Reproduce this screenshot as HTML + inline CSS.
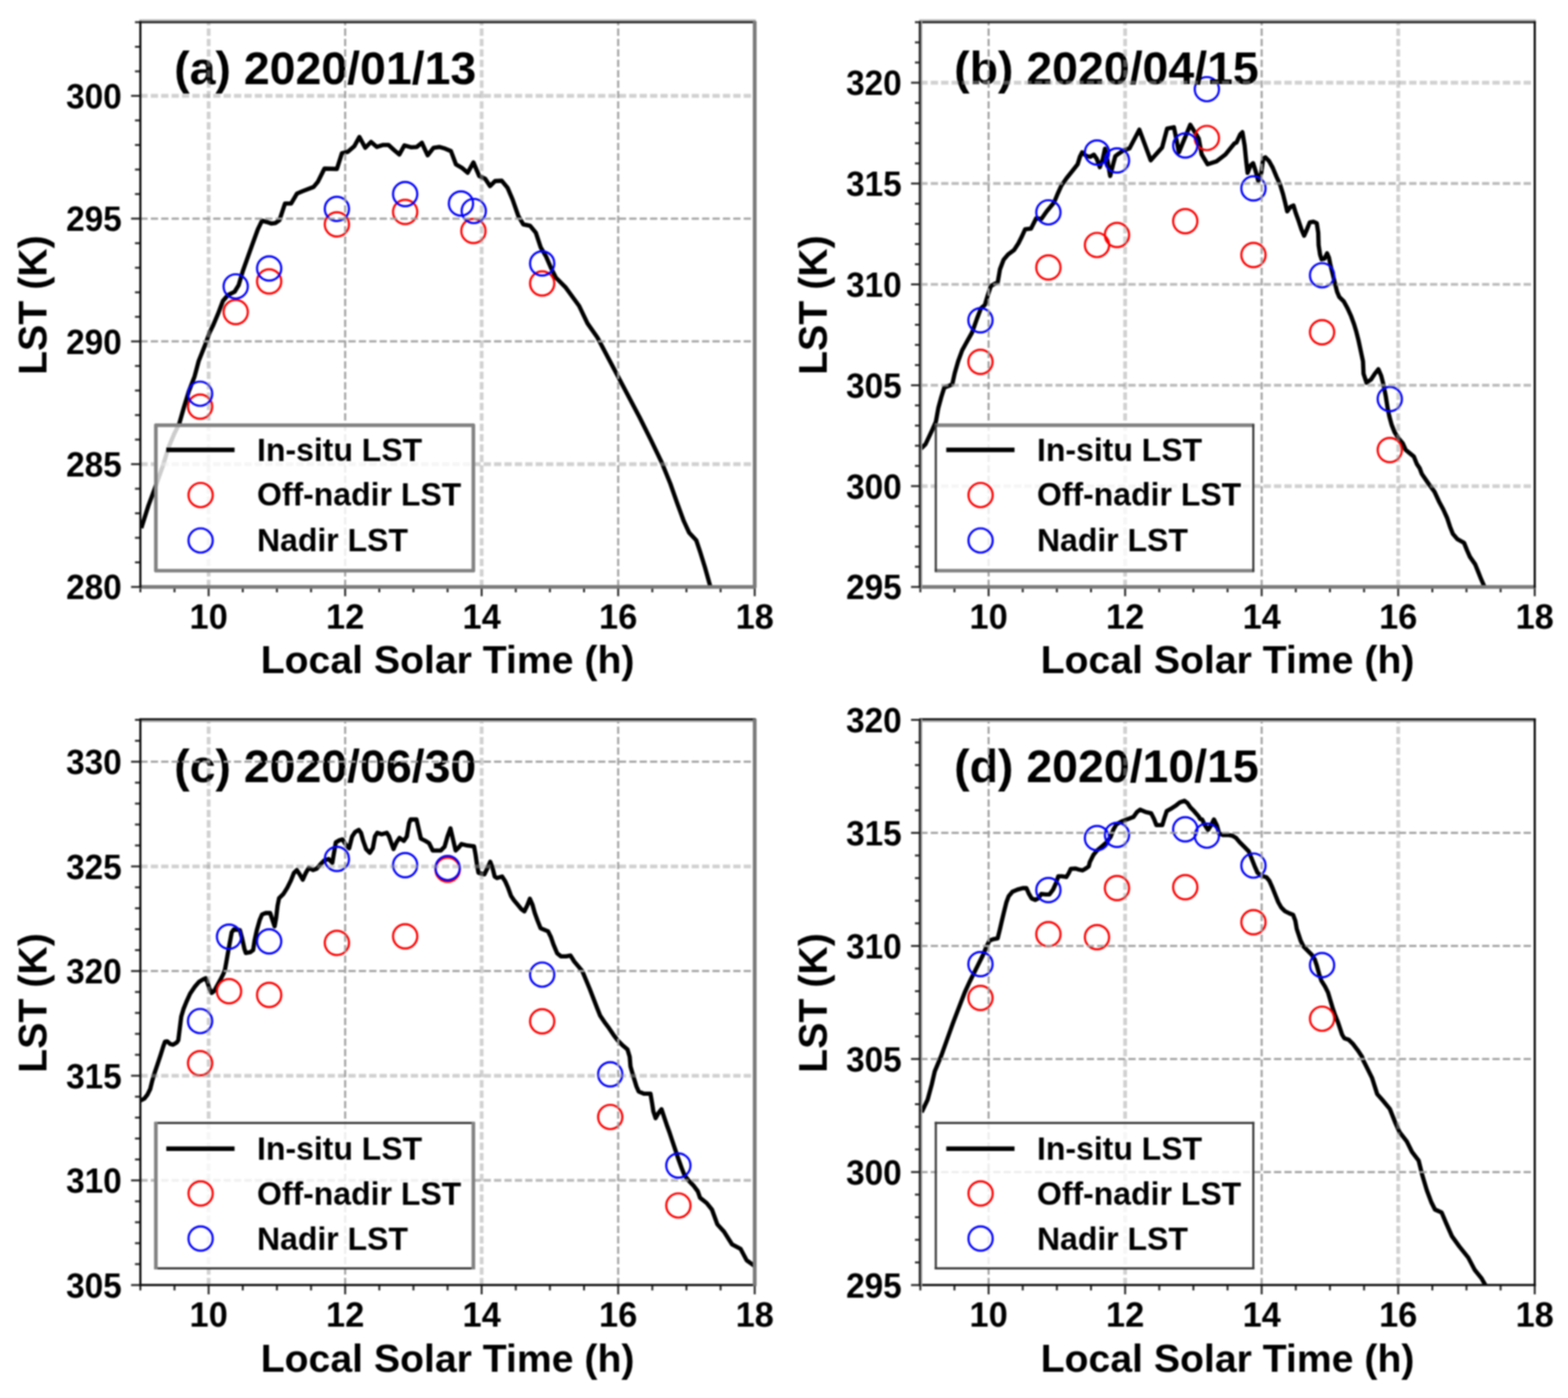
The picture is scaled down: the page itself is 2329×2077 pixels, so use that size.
<!DOCTYPE html>
<html lang="en">
<head>
<meta charset="utf-8">
<title>Diurnal LST: in-situ vs. off-nadir and nadir retrievals</title>
<style>
html, body { margin: 0; padding: 0; background: #fff; }
body { width: 2329px; height: 2077px; overflow: hidden; }
svg { display: block; }
svg text { font-family: "Liberation Sans", Arial, Helvetica, sans-serif; font-weight: bold; fill: #000; }
</style>
</head>
<body>
<svg xmlns="http://www.w3.org/2000/svg" width="2329" height="2077" viewBox="0 0 2329 2077">
<defs><filter id="soft" x="0" y="0" width="2329" height="2077" filterUnits="userSpaceOnUse" color-interpolation-filters="sRGB"><feGaussianBlur stdDeviation="0.9"/></filter></defs>
<rect x="0" y="0" width="2329" height="2077" fill="#fff"/>
<g filter="url(#soft)">
<rect x="0" y="0" width="2329" height="2077" fill="#fff"/>
<g class="panel" id="panel-a">
<clipPath id="clip-a"><rect x="208.5" y="33" width="912.5" height="839"/></clipPath>
<polyline class="curve" clip-path="url(#clip-a)" points="209.9,784.5 220.5,751 231,722.9 241.6,693 250.3,664.9 259.1,643.8 266.2,629.7 273.2,605.1 280.2,582.2 289,559.3 295.2,536.1 305.1,511.4 311.3,494 316.2,484.2 323.6,466.8 331.1,447.1 338.5,438.4 348.4,433.5 354.5,423.6 360.7,402.6 373.1,367.9 383,340.7 389.2,327.9 395.4,329.6 402.8,332.1 409,331.3 415.1,327.1 418.8,316 423.3,302.4 432.4,302.4 441.1,287.6 449.8,283.9 465.8,277.7 472,270.3 481.9,250.5 500.4,251 507.9,227.5 516.5,225.7 526.4,217.1 533.8,203.5 542.5,219.6 551.1,210.9 559.8,218.3 568.4,215.4 577.1,215.4 585.8,223.3 593.2,229.5 600.6,215.9 610.5,218.8 619.1,218.3 626.6,212.1 635.2,230.7 643.9,219.6 652.5,218.3 661.2,220.8 669.8,224.5 677.3,244.3 685.9,249.2 694.6,256.7 703.2,241.3 711.8,261.6 720.5,265.3 727.9,276.4 735.3,269 745.2,268.5 753.9,278.9 761.3,296.2 769.9,320.9 777.3,333.3 787.2,335.3 795.9,345.7 803.3,367.9 810.7,380.3 818.2,397.6 825.6,412.4 840.4,427.3 860.2,454.5 872.6,480.4 887.4,501.5 950,620 966.4,652.9 982.9,687.1 995.7,718.6 1005.7,747.1 1015.7,774.3 1023.6,791.4 1034.3,802.9 1040,820 1047.1,842.9 1054.3,868.6 1060,890" fill="none" stroke="#000" stroke-width="6.3" stroke-linejoin="round" stroke-linecap="butt"/>
<g class="markers" fill="none" stroke-width="3.2">
<circle cx="297.2" cy="604.1" r="18.0" stroke="#f00"/>
<circle cx="350.1" cy="463.6" r="18.0" stroke="#f00"/>
<circle cx="399.8" cy="418.1" r="18.0" stroke="#f00"/>
<circle cx="500.4" cy="333.3" r="18.0" stroke="#f00"/>
<circle cx="601.8" cy="314.8" r="18.0" stroke="#f00"/>
<circle cx="703.2" cy="343.2" r="18.0" stroke="#f00"/>
<circle cx="805.3" cy="421.1" r="18.0" stroke="#f00"/>
<circle cx="297.2" cy="585" r="18.0" stroke="#00f"/>
<circle cx="350.1" cy="425.5" r="18.0" stroke="#00f"/>
<circle cx="399.8" cy="398.8" r="18.0" stroke="#00f"/>
<circle cx="500.4" cy="310.3" r="18.0" stroke="#00f"/>
<circle cx="601.8" cy="288.3" r="18.0" stroke="#00f"/>
<circle cx="684.7" cy="302.4" r="18.0" stroke="#00f"/>
<circle cx="703.7" cy="313.5" r="18.0" stroke="#00f"/>
<circle cx="805.3" cy="391.4" r="18.0" stroke="#00f"/>
</g>
<text class="title" transform="translate(258.7 125.2) scale(1 1.006)" font-size="69">(a) 2020/01/13</text>
<g class="grid" fill="none">
<line x1="309.9" y1="872" x2="309.9" y2="33" stroke="#9e9e9e" stroke-width="5.6" stroke-dasharray="10.8 4.65" stroke-opacity="0.47"/>
<line x1="512.7" y1="872" x2="512.7" y2="33" stroke="#9e9e9e" stroke-width="3.2" stroke-dasharray="10.8 4.65" stroke-opacity="0.93"/>
<line x1="715.4" y1="872" x2="715.4" y2="33" stroke="#9e9e9e" stroke-width="5.6" stroke-dasharray="10.8 4.65" stroke-opacity="0.47"/>
<line x1="918.2" y1="872" x2="918.2" y2="33" stroke="#9e9e9e" stroke-width="3.2" stroke-dasharray="10.8 4.65" stroke-opacity="0.93"/>
<line x1="208.5" y1="142.4" x2="1121" y2="142.4" stroke="#9e9e9e" stroke-width="5.6" stroke-dasharray="10.8 4.65" stroke-opacity="0.47"/>
<line x1="208.5" y1="324.8" x2="1121" y2="324.8" stroke="#9e9e9e" stroke-width="3.2" stroke-dasharray="10.8 4.65" stroke-opacity="0.93"/>
<line x1="208.5" y1="507.2" x2="1121" y2="507.2" stroke="#9e9e9e" stroke-width="3.2" stroke-dasharray="10.8 4.65" stroke-opacity="0.93"/>
<line x1="208.5" y1="689.6" x2="1121" y2="689.6" stroke="#9e9e9e" stroke-width="5.6" stroke-dasharray="10.8 4.65" stroke-opacity="0.47"/>
</g>
<g class="ticks" fill="none">
<line x1="208.5" y1="872" x2="208.5" y2="880" stroke="#2e2e2e" stroke-width="3.0"/>
<line x1="259.2" y1="872" x2="259.2" y2="880" stroke="#2e2e2e" stroke-width="3.0"/>
<line x1="309.9" y1="872" x2="309.9" y2="885.8" stroke="#2e2e2e" stroke-width="3.0"/>
<line x1="360.6" y1="872" x2="360.6" y2="880" stroke="#2e2e2e" stroke-width="3.0"/>
<line x1="411.3" y1="872" x2="411.3" y2="880" stroke="#2e2e2e" stroke-width="3.0"/>
<line x1="462" y1="872" x2="462" y2="880" stroke="#2e2e2e" stroke-width="3.0"/>
<line x1="512.7" y1="872" x2="512.7" y2="885.8" stroke="#2e2e2e" stroke-width="3.0"/>
<line x1="563.4" y1="872" x2="563.4" y2="880" stroke="#2e2e2e" stroke-width="3.0"/>
<line x1="614.1" y1="872" x2="614.1" y2="880" stroke="#2e2e2e" stroke-width="3.0"/>
<line x1="664.8" y1="872" x2="664.8" y2="880" stroke="#2e2e2e" stroke-width="3.0"/>
<line x1="715.4" y1="872" x2="715.4" y2="885.8" stroke="#2e2e2e" stroke-width="3.0"/>
<line x1="766.1" y1="872" x2="766.1" y2="880" stroke="#2e2e2e" stroke-width="3.0"/>
<line x1="816.8" y1="872" x2="816.8" y2="880" stroke="#2e2e2e" stroke-width="3.0"/>
<line x1="867.5" y1="872" x2="867.5" y2="880" stroke="#2e2e2e" stroke-width="3.0"/>
<line x1="918.2" y1="872" x2="918.2" y2="885.8" stroke="#2e2e2e" stroke-width="3.0"/>
<line x1="968.9" y1="872" x2="968.9" y2="880" stroke="#2e2e2e" stroke-width="3.0"/>
<line x1="1019.6" y1="872" x2="1019.6" y2="880" stroke="#2e2e2e" stroke-width="3.0"/>
<line x1="1070.3" y1="872" x2="1070.3" y2="880" stroke="#2e2e2e" stroke-width="3.0"/>
<line x1="1121" y1="872" x2="1121" y2="885.8" stroke="#2e2e2e" stroke-width="3.0"/>
<line x1="208.5" y1="872" x2="194.7" y2="872" stroke="#2e2e2e" stroke-width="3.0"/>
<line x1="208.5" y1="835.5" x2="200.5" y2="835.5" stroke="#2e2e2e" stroke-width="3.0"/>
<line x1="208.5" y1="799" x2="200.5" y2="799" stroke="#2e2e2e" stroke-width="3.0"/>
<line x1="208.5" y1="762.6" x2="200.5" y2="762.6" stroke="#2e2e2e" stroke-width="3.0"/>
<line x1="208.5" y1="726.1" x2="200.5" y2="726.1" stroke="#2e2e2e" stroke-width="3.0"/>
<line x1="208.5" y1="689.6" x2="194.7" y2="689.6" stroke="#2e2e2e" stroke-width="3.0"/>
<line x1="208.5" y1="653.1" x2="200.5" y2="653.1" stroke="#2e2e2e" stroke-width="3.0"/>
<line x1="208.5" y1="616.7" x2="200.5" y2="616.7" stroke="#2e2e2e" stroke-width="3.0"/>
<line x1="208.5" y1="580.2" x2="200.5" y2="580.2" stroke="#2e2e2e" stroke-width="3.0"/>
<line x1="208.5" y1="543.7" x2="200.5" y2="543.7" stroke="#2e2e2e" stroke-width="3.0"/>
<line x1="208.5" y1="507.2" x2="194.7" y2="507.2" stroke="#2e2e2e" stroke-width="3.0"/>
<line x1="208.5" y1="470.7" x2="200.5" y2="470.7" stroke="#2e2e2e" stroke-width="3.0"/>
<line x1="208.5" y1="434.3" x2="200.5" y2="434.3" stroke="#2e2e2e" stroke-width="3.0"/>
<line x1="208.5" y1="397.8" x2="200.5" y2="397.8" stroke="#2e2e2e" stroke-width="3.0"/>
<line x1="208.5" y1="361.3" x2="200.5" y2="361.3" stroke="#2e2e2e" stroke-width="3.0"/>
<line x1="208.5" y1="324.8" x2="194.7" y2="324.8" stroke="#2e2e2e" stroke-width="3.0"/>
<line x1="208.5" y1="288.3" x2="200.5" y2="288.3" stroke="#2e2e2e" stroke-width="3.0"/>
<line x1="208.5" y1="251.9" x2="200.5" y2="251.9" stroke="#2e2e2e" stroke-width="3.0"/>
<line x1="208.5" y1="215.4" x2="200.5" y2="215.4" stroke="#2e2e2e" stroke-width="3.0"/>
<line x1="208.5" y1="178.9" x2="200.5" y2="178.9" stroke="#2e2e2e" stroke-width="3.0"/>
<line x1="208.5" y1="142.4" x2="194.7" y2="142.4" stroke="#2e2e2e" stroke-width="3.0"/>
<line x1="208.5" y1="106" x2="200.5" y2="106" stroke="#2e2e2e" stroke-width="3.0"/>
<line x1="208.5" y1="69.5" x2="200.5" y2="69.5" stroke="#2e2e2e" stroke-width="3.0"/>
<line x1="208.5" y1="33" x2="200.5" y2="33" stroke="#2e2e2e" stroke-width="3.0"/>
</g>
<g class="spines" fill="none">
<line x1="206.9" y1="30.1" x2="1122.6" y2="30.1" stroke="#b4b4b4" stroke-width="2.6"/>
<line x1="206.9" y1="33" x2="1122.6" y2="33" stroke="#1c1c1c" stroke-width="3.2"/>
<line x1="206.9" y1="872" x2="1122.6" y2="872" stroke="#7a7a7a" stroke-width="5.6"/>
<line x1="208.5" y1="31.4" x2="208.5" y2="873.6" stroke="#0c0c0c" stroke-width="3.2"/>
<line x1="1121" y1="31.4" x2="1121" y2="873.6" stroke="#7a7a7a" stroke-width="5.6"/>
</g>
<g class="ticklabels" font-size="51">
<text x="309.9" y="933.6" text-anchor="middle">10</text>
<text x="512.7" y="933.6" text-anchor="middle">12</text>
<text x="715.4" y="933.6" text-anchor="middle">14</text>
<text x="918.2" y="933.6" text-anchor="middle">16</text>
<text x="1121" y="933.6" text-anchor="middle">18</text>
<text transform="translate(180.9 160.7) scale(0.972 1)" text-anchor="end">300</text>
<text transform="translate(180.9 343.1) scale(0.972 1)" text-anchor="end">295</text>
<text transform="translate(180.9 525.5) scale(0.972 1)" text-anchor="end">290</text>
<text transform="translate(180.9 707.9) scale(0.972 1)" text-anchor="end">285</text>
<text transform="translate(180.9 890.3) scale(0.972 1)" text-anchor="end">280</text>
</g>
<text class="xlabel" x="664.8" y="1000.4" font-size="58.2" text-anchor="middle">Local Solar Time (h)</text>
<text class="ylabel" transform="translate(69.1 453.3) rotate(-90)" font-size="58.4" text-anchor="middle">LST (K)</text>
<g class="legend">
<rect x="231.5" y="631.8" width="471.6" height="216.1" fill="#fff" fill-opacity="0.8"/>
<line x1="229.9" y1="631.8" x2="704.7" y2="631.8" stroke="#828282" stroke-width="5.4"/>
<line x1="229.9" y1="847.9" x2="704.7" y2="847.9" stroke="#828282" stroke-width="5.4"/>
<line x1="231.5" y1="630.2" x2="231.5" y2="849.5" stroke="#828282" stroke-width="5.4"/>
<line x1="703.1" y1="630.2" x2="703.1" y2="849.5" stroke="#828282" stroke-width="5.4"/>
<line x1="247" y1="668.4" x2="348.4" y2="668.4" stroke="#000" stroke-width="6.6"/>
<circle cx="298" cy="735.5" r="18.0" fill="none" stroke="#f00" stroke-width="3.2"/>
<circle cx="298" cy="803" r="18.0" fill="none" stroke="#00f" stroke-width="3.2"/>
<g font-size="47.5">
<text x="381.7" y="684.5">In-situ LST</text>
<text x="381.7" y="751.3">Off-nadir LST</text>
<text x="381.7" y="819.1">Nadir LST</text>
</g></g>
</g>
<g class="panel" id="panel-b">
<clipPath id="clip-b"><rect x="1367" y="33" width="912.6" height="839"/></clipPath>
<polyline class="curve" clip-path="url(#clip-b)" points="1368.1,666.4 1374.7,660 1385,638.1 1390.1,626.4 1393.8,605.8 1398.2,589.6 1402.6,575.7 1414.4,571.2 1418.1,554.3 1423.2,536.7 1429.1,520.5 1436.4,507.3 1443.8,494.1 1451.1,473.5 1457,458.1 1462.9,452.9 1467.3,438.2 1471.7,425 1482,419.1 1485.3,400 1490.8,385.7 1497.4,378 1506.2,371.4 1512.7,361.5 1518.2,350.5 1522.6,340.7 1531.4,339.6 1535.8,330.8 1539.1,324.2 1546.8,325.3 1554.5,314.3 1565.5,301.1 1571,287.9 1576.5,275.8 1584.2,264.8 1593,253.8 1600.7,244 1604,233 1607.3,226.4 1613.8,231.9 1619.3,233 1624.8,229.7 1629.2,236.3 1633.6,248.4 1638,236.3 1641.3,220.9 1644.6,236.3 1649,261.5 1653.4,244 1656.7,231.9 1660,229.4 1668.8,223.5 1677.6,220.6 1692.3,192.6 1709.2,238.2 1726.1,219.1 1733.5,191.2 1743.7,189 1751.1,226.4 1768,185.3 1780.5,205.9 1784.9,229.4 1793.7,244.1 1806.9,239.7 1820.2,229.4 1833.4,213.2 1836.6,211.8 1842.1,199.7 1845.4,196.4 1848.7,216.2 1850.9,238.1 1853.1,256.8 1857.5,245.8 1861.3,242.5 1865.2,254.6 1869,268.9 1873.4,256.8 1876.2,235.9 1879.5,233.7 1884.9,239.2 1890.4,249.1 1895.9,262.3 1901.4,274.4 1905.8,288.7 1909.1,301.9 1911.9,314 1916.8,307.4 1921.2,305.2 1924.5,316.2 1928.9,328.2 1933.3,341.4 1937.1,350.2 1941,341.4 1945.4,330.4 1950.9,329.3 1955.8,331.5 1958,345.8 1958.6,364.3 1960.8,378.6 1963,385.2 1967.4,384.1 1971.2,376.4 1974,383 1976.2,394 1979.5,407.1 1982.7,420.3 1986,433.5 1989.3,441.2 1995.9,447.8 2001.4,457.7 2006.9,469.8 2011.3,481.9 2014.6,492.9 2017.9,506 2021.2,521.4 2024.5,536.8 2025.3,555.2 2029.7,568.4 2036.3,564 2042.9,554.1 2047.3,548.6 2051.6,558.5 2054.9,571.6 2058.2,588.1 2061,605.7 2063.7,618.9 2067,631 2071.4,642 2076.9,650.8 2083.5,658.5 2087.9,668.4 2094.5,673.8 2100,678.2 2104.4,689.2 2108.8,695.8 2112,704.3 2121.9,718.6 2130.7,730.7 2137.3,744.9 2143.8,757 2149.3,769.1 2153.7,782.3 2158.1,793.3 2164.7,801 2174.6,806.5 2179,817.5 2183.4,827.4 2191.1,838.4 2195.5,849.3 2199.9,860.3 2204.3,870.2 2210.9,885.6 2213.8,893.3" fill="none" stroke="#000" stroke-width="6.3" stroke-linejoin="round" stroke-linecap="butt"/>
<g class="markers" fill="none" stroke-width="3.2">
<circle cx="1456.3" cy="537.6" r="18.0" stroke="#f00"/>
<circle cx="1557.2" cy="397.4" r="18.0" stroke="#f00"/>
<circle cx="1629.4" cy="364" r="18.0" stroke="#f00"/>
<circle cx="1659.1" cy="349.1" r="18.0" stroke="#f00"/>
<circle cx="1760.5" cy="328.6" r="18.0" stroke="#f00"/>
<circle cx="1792.6" cy="205" r="18.0" stroke="#f00"/>
<circle cx="1861.8" cy="378.8" r="18.0" stroke="#f00"/>
<circle cx="1963.7" cy="493.6" r="18.0" stroke="#f00"/>
<circle cx="2064.3" cy="668.6" r="18.0" stroke="#f00"/>
<circle cx="1456.3" cy="475.8" r="18.0" stroke="#00f"/>
<circle cx="1557.2" cy="315.5" r="18.0" stroke="#00f"/>
<circle cx="1629.4" cy="226.7" r="18.0" stroke="#00f"/>
<circle cx="1659.1" cy="238.4" r="18.0" stroke="#00f"/>
<circle cx="1760.5" cy="216.1" r="18.0" stroke="#00f"/>
<circle cx="1792.6" cy="132.5" r="18.0" stroke="#00f"/>
<circle cx="1861.8" cy="279.9" r="18.0" stroke="#00f"/>
<circle cx="1963.7" cy="409" r="18.0" stroke="#00f"/>
<circle cx="2064.3" cy="592.8" r="18.0" stroke="#00f"/>
</g>
<text class="title" transform="translate(1417.2 125.2) scale(1 1.006)" font-size="69">(b) 2020/04/15</text>
<g class="grid" fill="none">
<line x1="1468.4" y1="872" x2="1468.4" y2="33" stroke="#9e9e9e" stroke-width="3.2" stroke-dasharray="10.8 4.65" stroke-opacity="0.93"/>
<line x1="1671.2" y1="872" x2="1671.2" y2="33" stroke="#9e9e9e" stroke-width="5.6" stroke-dasharray="10.8 4.65" stroke-opacity="0.47"/>
<line x1="1874" y1="872" x2="1874" y2="33" stroke="#9e9e9e" stroke-width="3.2" stroke-dasharray="10.8 4.65" stroke-opacity="0.93"/>
<line x1="2076.8" y1="872" x2="2076.8" y2="33" stroke="#9e9e9e" stroke-width="5.6" stroke-dasharray="10.8 4.65" stroke-opacity="0.47"/>
<line x1="1367" y1="122.9" x2="2279.6" y2="122.9" stroke="#9e9e9e" stroke-width="5.6" stroke-dasharray="10.8 4.65" stroke-opacity="0.47"/>
<line x1="1367" y1="272.7" x2="2279.6" y2="272.7" stroke="#9e9e9e" stroke-width="4.2" stroke-dasharray="10.8 4.65" stroke-opacity="0.7"/>
<line x1="1367" y1="422.5" x2="2279.6" y2="422.5" stroke="#9e9e9e" stroke-width="4.2" stroke-dasharray="10.8 4.65" stroke-opacity="0.7"/>
<line x1="1367" y1="572.4" x2="2279.6" y2="572.4" stroke="#9e9e9e" stroke-width="4.2" stroke-dasharray="10.8 4.65" stroke-opacity="0.7"/>
<line x1="1367" y1="722.2" x2="2279.6" y2="722.2" stroke="#9e9e9e" stroke-width="5.6" stroke-dasharray="10.8 4.65" stroke-opacity="0.47"/>
</g>
<g class="ticks" fill="none">
<line x1="1367" y1="872" x2="1367" y2="880" stroke="#2e2e2e" stroke-width="3.0"/>
<line x1="1417.7" y1="872" x2="1417.7" y2="880" stroke="#2e2e2e" stroke-width="3.0"/>
<line x1="1468.4" y1="872" x2="1468.4" y2="885.8" stroke="#2e2e2e" stroke-width="3.0"/>
<line x1="1519.1" y1="872" x2="1519.1" y2="880" stroke="#2e2e2e" stroke-width="3.0"/>
<line x1="1569.8" y1="872" x2="1569.8" y2="880" stroke="#2e2e2e" stroke-width="3.0"/>
<line x1="1620.5" y1="872" x2="1620.5" y2="880" stroke="#2e2e2e" stroke-width="3.0"/>
<line x1="1671.2" y1="872" x2="1671.2" y2="885.8" stroke="#2e2e2e" stroke-width="3.0"/>
<line x1="1721.9" y1="872" x2="1721.9" y2="880" stroke="#2e2e2e" stroke-width="3.0"/>
<line x1="1772.6" y1="872" x2="1772.6" y2="880" stroke="#2e2e2e" stroke-width="3.0"/>
<line x1="1823.3" y1="872" x2="1823.3" y2="880" stroke="#2e2e2e" stroke-width="3.0"/>
<line x1="1874" y1="872" x2="1874" y2="885.8" stroke="#2e2e2e" stroke-width="3.0"/>
<line x1="1924.7" y1="872" x2="1924.7" y2="880" stroke="#2e2e2e" stroke-width="3.0"/>
<line x1="1975.4" y1="872" x2="1975.4" y2="880" stroke="#2e2e2e" stroke-width="3.0"/>
<line x1="2026.1" y1="872" x2="2026.1" y2="880" stroke="#2e2e2e" stroke-width="3.0"/>
<line x1="2076.8" y1="872" x2="2076.8" y2="885.8" stroke="#2e2e2e" stroke-width="3.0"/>
<line x1="2127.5" y1="872" x2="2127.5" y2="880" stroke="#2e2e2e" stroke-width="3.0"/>
<line x1="2178.2" y1="872" x2="2178.2" y2="880" stroke="#2e2e2e" stroke-width="3.0"/>
<line x1="2228.9" y1="872" x2="2228.9" y2="880" stroke="#2e2e2e" stroke-width="3.0"/>
<line x1="2279.6" y1="872" x2="2279.6" y2="885.8" stroke="#2e2e2e" stroke-width="3.0"/>
<line x1="1367" y1="872" x2="1353.2" y2="872" stroke="#2e2e2e" stroke-width="3.0"/>
<line x1="1367" y1="842" x2="1359" y2="842" stroke="#2e2e2e" stroke-width="3.0"/>
<line x1="1367" y1="812.1" x2="1359" y2="812.1" stroke="#2e2e2e" stroke-width="3.0"/>
<line x1="1367" y1="782.1" x2="1359" y2="782.1" stroke="#2e2e2e" stroke-width="3.0"/>
<line x1="1367" y1="752.1" x2="1359" y2="752.1" stroke="#2e2e2e" stroke-width="3.0"/>
<line x1="1367" y1="722.2" x2="1353.2" y2="722.2" stroke="#2e2e2e" stroke-width="3.0"/>
<line x1="1367" y1="692.2" x2="1359" y2="692.2" stroke="#2e2e2e" stroke-width="3.0"/>
<line x1="1367" y1="662.2" x2="1359" y2="662.2" stroke="#2e2e2e" stroke-width="3.0"/>
<line x1="1367" y1="632.3" x2="1359" y2="632.3" stroke="#2e2e2e" stroke-width="3.0"/>
<line x1="1367" y1="602.3" x2="1359" y2="602.3" stroke="#2e2e2e" stroke-width="3.0"/>
<line x1="1367" y1="572.4" x2="1353.2" y2="572.4" stroke="#2e2e2e" stroke-width="3.0"/>
<line x1="1367" y1="542.4" x2="1359" y2="542.4" stroke="#2e2e2e" stroke-width="3.0"/>
<line x1="1367" y1="512.4" x2="1359" y2="512.4" stroke="#2e2e2e" stroke-width="3.0"/>
<line x1="1367" y1="482.5" x2="1359" y2="482.5" stroke="#2e2e2e" stroke-width="3.0"/>
<line x1="1367" y1="452.5" x2="1359" y2="452.5" stroke="#2e2e2e" stroke-width="3.0"/>
<line x1="1367" y1="422.5" x2="1353.2" y2="422.5" stroke="#2e2e2e" stroke-width="3.0"/>
<line x1="1367" y1="392.6" x2="1359" y2="392.6" stroke="#2e2e2e" stroke-width="3.0"/>
<line x1="1367" y1="362.6" x2="1359" y2="362.6" stroke="#2e2e2e" stroke-width="3.0"/>
<line x1="1367" y1="332.6" x2="1359" y2="332.6" stroke="#2e2e2e" stroke-width="3.0"/>
<line x1="1367" y1="302.7" x2="1359" y2="302.7" stroke="#2e2e2e" stroke-width="3.0"/>
<line x1="1367" y1="272.7" x2="1353.2" y2="272.7" stroke="#2e2e2e" stroke-width="3.0"/>
<line x1="1367" y1="242.8" x2="1359" y2="242.8" stroke="#2e2e2e" stroke-width="3.0"/>
<line x1="1367" y1="212.8" x2="1359" y2="212.8" stroke="#2e2e2e" stroke-width="3.0"/>
<line x1="1367" y1="182.8" x2="1359" y2="182.8" stroke="#2e2e2e" stroke-width="3.0"/>
<line x1="1367" y1="152.9" x2="1359" y2="152.9" stroke="#2e2e2e" stroke-width="3.0"/>
<line x1="1367" y1="122.9" x2="1353.2" y2="122.9" stroke="#2e2e2e" stroke-width="3.0"/>
<line x1="1367" y1="92.9" x2="1359" y2="92.9" stroke="#2e2e2e" stroke-width="3.0"/>
<line x1="1367" y1="63" x2="1359" y2="63" stroke="#2e2e2e" stroke-width="3.0"/>
<line x1="1367" y1="33" x2="1359" y2="33" stroke="#2e2e2e" stroke-width="3.0"/>
</g>
<g class="spines" fill="none">
<line x1="1365.4" y1="30.1" x2="2281.2" y2="30.1" stroke="#b4b4b4" stroke-width="2.6"/>
<line x1="1365.4" y1="33" x2="2281.2" y2="33" stroke="#1c1c1c" stroke-width="3.2"/>
<line x1="1365.4" y1="872" x2="2281.2" y2="872" stroke="#7a7a7a" stroke-width="5.6"/>
<line x1="1368.8" y1="31.4" x2="1368.8" y2="873.6" stroke="#a4a4a4" stroke-width="2.2"/>
<line x1="1366.2" y1="31.4" x2="1366.2" y2="873.6" stroke="#1c1c1c" stroke-width="3.0"/>
<line x1="2279.6" y1="31.4" x2="2279.6" y2="873.6" stroke="#0c0c0c" stroke-width="3.2"/>
</g>
<g class="ticklabels" font-size="51">
<text x="1468.4" y="933.6" text-anchor="middle">10</text>
<text x="1671.2" y="933.6" text-anchor="middle">12</text>
<text x="1874" y="933.6" text-anchor="middle">14</text>
<text x="2076.8" y="933.6" text-anchor="middle">16</text>
<text x="2279.6" y="933.6" text-anchor="middle">18</text>
<text transform="translate(1339.4 141.2) scale(0.972 1)" text-anchor="end">320</text>
<text transform="translate(1339.4 291) scale(0.972 1)" text-anchor="end">315</text>
<text transform="translate(1339.4 440.8) scale(0.972 1)" text-anchor="end">310</text>
<text transform="translate(1339.4 590.7) scale(0.972 1)" text-anchor="end">305</text>
<text transform="translate(1339.4 740.5) scale(0.972 1)" text-anchor="end">300</text>
<text transform="translate(1339.4 890.3) scale(0.972 1)" text-anchor="end">295</text>
</g>
<text class="xlabel" x="1823.3" y="1000.4" font-size="58.2" text-anchor="middle">Local Solar Time (h)</text>
<text class="ylabel" transform="translate(1227.6 453.3) rotate(-90)" font-size="58.4" text-anchor="middle">LST (K)</text>
<g class="legend">
<rect x="1390" y="631.8" width="471.6" height="216.1" fill="#fff" fill-opacity="0.8"/>
<line x1="1388.4" y1="631.8" x2="1863.2" y2="631.8" stroke="#828282" stroke-width="5.4"/>
<line x1="1388.4" y1="847.9" x2="1863.2" y2="847.9" stroke="#828282" stroke-width="5.4"/>
<line x1="1390" y1="630.2" x2="1390" y2="849.5" stroke="#3a3a3a" stroke-width="3.2"/>
<line x1="1861.6" y1="630.2" x2="1861.6" y2="849.5" stroke="#3a3a3a" stroke-width="3.2"/>
<line x1="1405.5" y1="668.4" x2="1506.9" y2="668.4" stroke="#000" stroke-width="6.6"/>
<circle cx="1456.5" cy="735.5" r="18.0" fill="none" stroke="#f00" stroke-width="3.2"/>
<circle cx="1456.5" cy="803" r="18.0" fill="none" stroke="#00f" stroke-width="3.2"/>
<g font-size="47.5">
<text x="1540.2" y="684.5">In-situ LST</text>
<text x="1540.2" y="751.3">Off-nadir LST</text>
<text x="1540.2" y="819.1">Nadir LST</text>
</g></g>
</g>
<g class="panel" id="panel-c">
<clipPath id="clip-c"><rect x="208.5" y="1069.5" width="912.5" height="839.7"/></clipPath>
<polyline class="curve" clip-path="url(#clip-c)" points="208.7,1634 209.9,1634.5 214.3,1632.3 218.7,1626.8 223.1,1618 226.4,1604.8 229.7,1593.8 234.1,1580.7 238.5,1567.5 242.3,1555.4 245.1,1547.7 248.4,1547.1 252.7,1551 257.1,1552.1 262.6,1548.8 264.8,1545.5 267,1527.9 269.2,1510.3 272.5,1499.3 276.9,1488.4 282.4,1476.3 289,1466.4 295.6,1458.7 301.1,1455.4 305.5,1453.2 308.2,1459.8 311,1468.6 314.3,1475.2 317.6,1473 322,1465.3 327.5,1455.4 331.9,1446.6 334.3,1440 337.6,1421.3 340.9,1402.6 344.2,1385.1 347.5,1380.7 356.3,1381.8 359.6,1393.8 362.9,1409.2 365.1,1415.8 371.6,1414.7 376,1411.4 378.2,1397.1 381.5,1381.8 385.9,1366.4 389.2,1358.7 394.7,1356.5 401.3,1356.5 404.6,1366.4 407.9,1376.3 410.1,1364.2 412.3,1345.5 414.5,1334.5 421.1,1327.9 426.6,1319.1 432.1,1308.1 436.5,1297.1 440.9,1292.7 445.3,1299.3 449.7,1307 454.1,1297.1 458.5,1289.5 465.1,1292.7 470.5,1290.5 476,1284 481.5,1278.5 488.1,1276.3 493.6,1281.8 498.8,1251.5 504.3,1248.2 508.7,1247.1 514.2,1255.9 518.6,1260.3 523,1242.7 527.4,1236.2 532.9,1232.9 536.2,1237.3 539.5,1249.3 543.8,1261.4 549.3,1266.9 553.7,1260.3 557,1242.7 560.3,1237.3 566.9,1239.5 574.6,1237.3 577.9,1242.7 581.2,1252.6 584.5,1261.4 588.9,1251.5 593.3,1244.9 599.9,1249.3 604.3,1242.7 607.6,1223 609.8,1217.5 618.6,1217.5 621.9,1231.8 625.2,1246 631.8,1249.3 637.3,1252.6 642.7,1263.6 648.2,1263.6 654.8,1263.6 660.3,1258.1 664.7,1242.7 669.1,1230.7 672.4,1244.9 676.8,1263.6 681.2,1259.2 685.4,1254 694.2,1256.2 704.1,1257.3 706.3,1269.3 708.5,1284.7 710.7,1296.8 715.1,1297.9 719.5,1299 723.8,1290.2 728.2,1280.3 731.5,1289.1 734.8,1302.3 738.1,1304.5 745.8,1302.3 750.2,1308.9 754.6,1318.8 759,1330.9 763.4,1337.5 768.9,1344.1 774.4,1350.7 778.8,1354 783.2,1345.2 787,1335.3 790.9,1344.1 794.2,1356.2 798.6,1368.2 803,1379.2 808.5,1381.4 814,1383.6 818.4,1392.4 822.1,1403.2 827.6,1416.4 833.1,1420.8 840.8,1420.8 847.4,1419.7 852.9,1428.5 859.5,1436.2 864.9,1442.7 870.4,1455.9 875.9,1469.1 881.4,1483.4 886.9,1497.7 891.3,1508.7 897.9,1518.6 904.5,1527.4 911.1,1537.3 917.7,1546 924.3,1552.6 932,1559.2 935.3,1570.2 936.5,1584.3 940.9,1599.7 945.3,1614 948.6,1621.6 956.3,1624.9 966.2,1624.9 968.4,1638.1 970.5,1651.3 973.8,1661.2 978.2,1653.5 982.6,1648 985.9,1657.9 990.3,1671.1 994.7,1683.2 999.1,1696.4 1003.5,1709.6 1007.9,1722.7 1012.3,1734.8 1016.7,1745.8 1023.3,1754.6 1029.9,1761.2 1036.5,1770 1039.8,1779.5 1049.7,1787.4 1057.6,1797.3 1065.5,1819 1075.4,1829.9 1087.3,1848.7 1100.1,1855.6 1109,1872.4 1119.9,1880.3 1126.8,1884.3" fill="none" stroke="#000" stroke-width="6.3" stroke-linejoin="round" stroke-linecap="butt"/>
<g class="markers" fill="none" stroke-width="3.2">
<circle cx="297.2" cy="1579.6" r="18.0" stroke="#f00"/>
<circle cx="340.2" cy="1472.7" r="18.0" stroke="#f00"/>
<circle cx="399.8" cy="1478.2" r="18.0" stroke="#f00"/>
<circle cx="500.4" cy="1400.8" r="18.0" stroke="#f00"/>
<circle cx="601.8" cy="1391.1" r="18.0" stroke="#f00"/>
<circle cx="664.9" cy="1292.2" r="18.0" stroke="#f00"/>
<circle cx="805.3" cy="1517.3" r="18.0" stroke="#f00"/>
<circle cx="906.4" cy="1659.5" r="18.0" stroke="#f00"/>
<circle cx="1007.6" cy="1791" r="18.0" stroke="#f00"/>
<circle cx="297.2" cy="1517" r="18.0" stroke="#00f"/>
<circle cx="340.2" cy="1391.6" r="18.0" stroke="#00f"/>
<circle cx="399.8" cy="1398.6" r="18.0" stroke="#00f"/>
<circle cx="500.4" cy="1276.2" r="18.0" stroke="#00f"/>
<circle cx="601.8" cy="1285.3" r="18.0" stroke="#00f"/>
<circle cx="664.9" cy="1289.5" r="18.0" stroke="#00f"/>
<circle cx="805.3" cy="1448" r="18.0" stroke="#00f"/>
<circle cx="906.4" cy="1596.1" r="18.0" stroke="#00f"/>
<circle cx="1007.6" cy="1731.6" r="18.0" stroke="#00f"/>
</g>
<text class="title" transform="translate(258.7 1161.7) scale(1 1.006)" font-size="69">(c) 2020/06/30</text>
<g class="grid" fill="none">
<line x1="309.9" y1="1909.2" x2="309.9" y2="1069.5" stroke="#9e9e9e" stroke-width="5.6" stroke-dasharray="10.8 4.65" stroke-opacity="0.47"/>
<line x1="512.7" y1="1909.2" x2="512.7" y2="1069.5" stroke="#9e9e9e" stroke-width="3.2" stroke-dasharray="10.8 4.65" stroke-opacity="0.93"/>
<line x1="715.4" y1="1909.2" x2="715.4" y2="1069.5" stroke="#9e9e9e" stroke-width="5.6" stroke-dasharray="10.8 4.65" stroke-opacity="0.47"/>
<line x1="918.2" y1="1909.2" x2="918.2" y2="1069.5" stroke="#9e9e9e" stroke-width="3.2" stroke-dasharray="10.8 4.65" stroke-opacity="0.93"/>
<line x1="208.5" y1="1131.7" x2="1121" y2="1131.7" stroke="#9e9e9e" stroke-width="3.2" stroke-dasharray="10.8 4.65" stroke-opacity="0.93"/>
<line x1="208.5" y1="1287.2" x2="1121" y2="1287.2" stroke="#9e9e9e" stroke-width="5.6" stroke-dasharray="10.8 4.65" stroke-opacity="0.47"/>
<line x1="208.5" y1="1442.7" x2="1121" y2="1442.7" stroke="#9e9e9e" stroke-width="3.2" stroke-dasharray="10.8 4.65" stroke-opacity="0.93"/>
<line x1="208.5" y1="1598.2" x2="1121" y2="1598.2" stroke="#9e9e9e" stroke-width="5.6" stroke-dasharray="10.8 4.65" stroke-opacity="0.47"/>
<line x1="208.5" y1="1753.7" x2="1121" y2="1753.7" stroke="#9e9e9e" stroke-width="4.2" stroke-dasharray="10.8 4.65" stroke-opacity="0.7"/>
</g>
<g class="ticks" fill="none">
<line x1="208.5" y1="1909.2" x2="208.5" y2="1917.2" stroke="#2e2e2e" stroke-width="3.0"/>
<line x1="259.2" y1="1909.2" x2="259.2" y2="1917.2" stroke="#2e2e2e" stroke-width="3.0"/>
<line x1="309.9" y1="1909.2" x2="309.9" y2="1923" stroke="#2e2e2e" stroke-width="3.0"/>
<line x1="360.6" y1="1909.2" x2="360.6" y2="1917.2" stroke="#2e2e2e" stroke-width="3.0"/>
<line x1="411.3" y1="1909.2" x2="411.3" y2="1917.2" stroke="#2e2e2e" stroke-width="3.0"/>
<line x1="462" y1="1909.2" x2="462" y2="1917.2" stroke="#2e2e2e" stroke-width="3.0"/>
<line x1="512.7" y1="1909.2" x2="512.7" y2="1923" stroke="#2e2e2e" stroke-width="3.0"/>
<line x1="563.4" y1="1909.2" x2="563.4" y2="1917.2" stroke="#2e2e2e" stroke-width="3.0"/>
<line x1="614.1" y1="1909.2" x2="614.1" y2="1917.2" stroke="#2e2e2e" stroke-width="3.0"/>
<line x1="664.8" y1="1909.2" x2="664.8" y2="1917.2" stroke="#2e2e2e" stroke-width="3.0"/>
<line x1="715.4" y1="1909.2" x2="715.4" y2="1923" stroke="#2e2e2e" stroke-width="3.0"/>
<line x1="766.1" y1="1909.2" x2="766.1" y2="1917.2" stroke="#2e2e2e" stroke-width="3.0"/>
<line x1="816.8" y1="1909.2" x2="816.8" y2="1917.2" stroke="#2e2e2e" stroke-width="3.0"/>
<line x1="867.5" y1="1909.2" x2="867.5" y2="1917.2" stroke="#2e2e2e" stroke-width="3.0"/>
<line x1="918.2" y1="1909.2" x2="918.2" y2="1923" stroke="#2e2e2e" stroke-width="3.0"/>
<line x1="968.9" y1="1909.2" x2="968.9" y2="1917.2" stroke="#2e2e2e" stroke-width="3.0"/>
<line x1="1019.6" y1="1909.2" x2="1019.6" y2="1917.2" stroke="#2e2e2e" stroke-width="3.0"/>
<line x1="1070.3" y1="1909.2" x2="1070.3" y2="1917.2" stroke="#2e2e2e" stroke-width="3.0"/>
<line x1="1121" y1="1909.2" x2="1121" y2="1923" stroke="#2e2e2e" stroke-width="3.0"/>
<line x1="208.5" y1="1909.2" x2="194.7" y2="1909.2" stroke="#2e2e2e" stroke-width="3.0"/>
<line x1="208.5" y1="1878.1" x2="200.5" y2="1878.1" stroke="#2e2e2e" stroke-width="3.0"/>
<line x1="208.5" y1="1847" x2="200.5" y2="1847" stroke="#2e2e2e" stroke-width="3.0"/>
<line x1="208.5" y1="1815.9" x2="200.5" y2="1815.9" stroke="#2e2e2e" stroke-width="3.0"/>
<line x1="208.5" y1="1784.8" x2="200.5" y2="1784.8" stroke="#2e2e2e" stroke-width="3.0"/>
<line x1="208.5" y1="1753.7" x2="194.7" y2="1753.7" stroke="#2e2e2e" stroke-width="3.0"/>
<line x1="208.5" y1="1722.6" x2="200.5" y2="1722.6" stroke="#2e2e2e" stroke-width="3.0"/>
<line x1="208.5" y1="1691.5" x2="200.5" y2="1691.5" stroke="#2e2e2e" stroke-width="3.0"/>
<line x1="208.5" y1="1660.4" x2="200.5" y2="1660.4" stroke="#2e2e2e" stroke-width="3.0"/>
<line x1="208.5" y1="1629.3" x2="200.5" y2="1629.3" stroke="#2e2e2e" stroke-width="3.0"/>
<line x1="208.5" y1="1598.2" x2="194.7" y2="1598.2" stroke="#2e2e2e" stroke-width="3.0"/>
<line x1="208.5" y1="1567.1" x2="200.5" y2="1567.1" stroke="#2e2e2e" stroke-width="3.0"/>
<line x1="208.5" y1="1536" x2="200.5" y2="1536" stroke="#2e2e2e" stroke-width="3.0"/>
<line x1="208.5" y1="1504.9" x2="200.5" y2="1504.9" stroke="#2e2e2e" stroke-width="3.0"/>
<line x1="208.5" y1="1473.8" x2="200.5" y2="1473.8" stroke="#2e2e2e" stroke-width="3.0"/>
<line x1="208.5" y1="1442.7" x2="194.7" y2="1442.7" stroke="#2e2e2e" stroke-width="3.0"/>
<line x1="208.5" y1="1411.6" x2="200.5" y2="1411.6" stroke="#2e2e2e" stroke-width="3.0"/>
<line x1="208.5" y1="1380.5" x2="200.5" y2="1380.5" stroke="#2e2e2e" stroke-width="3.0"/>
<line x1="208.5" y1="1349.4" x2="200.5" y2="1349.4" stroke="#2e2e2e" stroke-width="3.0"/>
<line x1="208.5" y1="1318.3" x2="200.5" y2="1318.3" stroke="#2e2e2e" stroke-width="3.0"/>
<line x1="208.5" y1="1287.2" x2="194.7" y2="1287.2" stroke="#2e2e2e" stroke-width="3.0"/>
<line x1="208.5" y1="1256.1" x2="200.5" y2="1256.1" stroke="#2e2e2e" stroke-width="3.0"/>
<line x1="208.5" y1="1225" x2="200.5" y2="1225" stroke="#2e2e2e" stroke-width="3.0"/>
<line x1="208.5" y1="1193.9" x2="200.5" y2="1193.9" stroke="#2e2e2e" stroke-width="3.0"/>
<line x1="208.5" y1="1162.8" x2="200.5" y2="1162.8" stroke="#2e2e2e" stroke-width="3.0"/>
<line x1="208.5" y1="1131.7" x2="194.7" y2="1131.7" stroke="#2e2e2e" stroke-width="3.0"/>
<line x1="208.5" y1="1100.6" x2="200.5" y2="1100.6" stroke="#2e2e2e" stroke-width="3.0"/>
<line x1="208.5" y1="1069.5" x2="200.5" y2="1069.5" stroke="#2e2e2e" stroke-width="3.0"/>
</g>
<g class="spines" fill="none">
<line x1="206.9" y1="1071.3" x2="1122.6" y2="1071.3" stroke="#a4a4a4" stroke-width="2.8"/>
<line x1="206.9" y1="1068.4" x2="1122.6" y2="1068.4" stroke="#1c1c1c" stroke-width="3.0"/>
<line x1="206.9" y1="1909.2" x2="1122.6" y2="1909.2" stroke="#0c0c0c" stroke-width="3.2"/>
<line x1="208.5" y1="1067.9" x2="208.5" y2="1910.8" stroke="#0c0c0c" stroke-width="3.2"/>
<line x1="1121" y1="1067.9" x2="1121" y2="1910.8" stroke="#7a7a7a" stroke-width="5.6"/>
</g>
<g class="ticklabels" font-size="51">
<text x="309.9" y="1970.8" text-anchor="middle">10</text>
<text x="512.7" y="1970.8" text-anchor="middle">12</text>
<text x="715.4" y="1970.8" text-anchor="middle">14</text>
<text x="918.2" y="1970.8" text-anchor="middle">16</text>
<text x="1121" y="1970.8" text-anchor="middle">18</text>
<text transform="translate(180.9 1150) scale(0.972 1)" text-anchor="end">330</text>
<text transform="translate(180.9 1305.5) scale(0.972 1)" text-anchor="end">325</text>
<text transform="translate(180.9 1461) scale(0.972 1)" text-anchor="end">320</text>
<text transform="translate(180.9 1616.5) scale(0.972 1)" text-anchor="end">315</text>
<text transform="translate(180.9 1772) scale(0.972 1)" text-anchor="end">310</text>
<text transform="translate(180.9 1927.5) scale(0.972 1)" text-anchor="end">305</text>
</g>
<text class="xlabel" x="664.8" y="2037.6" font-size="58.2" text-anchor="middle">Local Solar Time (h)</text>
<text class="ylabel" transform="translate(69.1 1490.1) rotate(-90)" font-size="58.4" text-anchor="middle">LST (K)</text>
<g class="legend">
<rect x="231.5" y="1668.3" width="471.6" height="216.1" fill="#fff" fill-opacity="0.8"/>
<line x1="229.9" y1="1668.3" x2="704.7" y2="1668.3" stroke="#3a3a3a" stroke-width="3.2"/>
<line x1="229.9" y1="1884.4" x2="704.7" y2="1884.4" stroke="#3a3a3a" stroke-width="3.2"/>
<line x1="231.5" y1="1666.7" x2="231.5" y2="1886" stroke="#828282" stroke-width="5.4"/>
<line x1="703.1" y1="1666.7" x2="703.1" y2="1886" stroke="#828282" stroke-width="5.4"/>
<line x1="247" y1="1706.6" x2="348.4" y2="1706.6" stroke="#000" stroke-width="6.6"/>
<circle cx="298" cy="1773.2" r="18.0" fill="none" stroke="#f00" stroke-width="3.2"/>
<circle cx="298" cy="1840.2" r="18.0" fill="none" stroke="#00f" stroke-width="3.2"/>
<g font-size="47.5">
<text x="381.7" y="1722.7">In-situ LST</text>
<text x="381.7" y="1789.5">Off-nadir LST</text>
<text x="381.7" y="1857.3">Nadir LST</text>
</g></g>
</g>
<g class="panel" id="panel-d">
<clipPath id="clip-d"><rect x="1367" y="1069.5" width="912.6" height="839.7"/></clipPath>
<polyline class="curve" clip-path="url(#clip-d)" points="1369,1652.4 1377.8,1633.9 1384,1611 1388.4,1591.7 1398,1568.8 1406.8,1544.2 1415.6,1519.6 1424.4,1496.7 1433.2,1473.9 1440,1459 1446.6,1445.8 1453.2,1432.6 1459.8,1419.5 1465.3,1406.3 1469.7,1397.5 1475.2,1395.3 1481.8,1394.2 1485.1,1381 1488.4,1366.7 1491.6,1353.5 1494.9,1340.3 1498.2,1331.5 1503.7,1324.9 1511.4,1321.6 1519.1,1319.5 1524.6,1319.5 1527.9,1327.1 1532.3,1334.8 1537.8,1337 1542.2,1334.8 1546.6,1328.2 1553.2,1328.8 1558.7,1328.8 1564.2,1321.6 1568.6,1311.8 1571.9,1301.9 1577.4,1301.9 1584,1303 1587.3,1297.5 1590.5,1290.9 1597.1,1290.3 1602.6,1292 1608.1,1293.1 1613.6,1289.8 1617.1,1287.2 1618.7,1280.9 1624.2,1269.9 1629.7,1263.3 1636.3,1257.8 1644,1251.2 1649.5,1243.5 1653.8,1232.5 1658.2,1224.8 1665.9,1220.4 1674.7,1217.1 1683.5,1213.8 1689,1206.2 1693.4,1202.9 1701.1,1206.2 1709.9,1208.4 1714.3,1217.1 1717.6,1225.9 1726.4,1225.9 1729.7,1214.9 1733,1205.1 1740.7,1200.7 1747.3,1196.3 1752.7,1191.9 1759.3,1189.7 1763.7,1193 1768.1,1199.6 1773.6,1205.1 1780.2,1212.7 1782.7,1216.8 1785.5,1217.5 1789.9,1226.3 1794.3,1232.9 1798.7,1226.3 1803.1,1217.5 1807.5,1226.3 1810.8,1238.4 1816.3,1240.5 1824,1240.5 1830.5,1241.6 1836,1244.9 1841.5,1251.5 1848.1,1258.1 1854.7,1264.7 1859.1,1275.7 1863.5,1286.7 1867.9,1296.6 1873.4,1301 1881.1,1303.2 1885.5,1308.7 1889.9,1318.6 1894.3,1329.6 1898.7,1340.5 1903.1,1348.2 1908.6,1353.7 1915.2,1357 1920.7,1359.2 1924,1368 1926.1,1380 1927.5,1384.3 1931.9,1397.5 1936.3,1406.3 1942.9,1412.9 1948.4,1418.4 1952.7,1424.9 1956,1434.8 1959.3,1446.9 1962.6,1456.8 1968.1,1465.6 1972.5,1474.4 1975.8,1485.4 1979.1,1496.4 1982.4,1506.3 1986.8,1517.3 1990.1,1527.1 1993.4,1537 1996.7,1542.5 2003.3,1544.7 2009.9,1551.3 2016.5,1560.1 2023.1,1570 2024.7,1575 2030.2,1585.9 2037.9,1601.3 2045.6,1625.5 2054.4,1635.4 2064.3,1647.5 2073.1,1669.5 2078.6,1681.6 2089.6,1695.9 2097.3,1711.3 2107.2,1724.4 2112.7,1746.4 2119.3,1768.4 2125.9,1786 2131.4,1797 2141.3,1801.4 2147.8,1816.8 2156.6,1836.6 2167.6,1851.9 2180.8,1868.4 2190.7,1887.1 2200.6,1899.2 2206.1,1909.1 2216,1926.7" fill="none" stroke="#000" stroke-width="6.3" stroke-linejoin="round" stroke-linecap="butt"/>
<g class="markers" fill="none" stroke-width="3.2">
<circle cx="1456.3" cy="1482.6" r="18.0" stroke="#f00"/>
<circle cx="1557.2" cy="1387.9" r="18.0" stroke="#f00"/>
<circle cx="1629.4" cy="1392.3" r="18.0" stroke="#f00"/>
<circle cx="1659.1" cy="1319.4" r="18.0" stroke="#f00"/>
<circle cx="1760.5" cy="1318.1" r="18.0" stroke="#f00"/>
<circle cx="1861.8" cy="1370.1" r="18.0" stroke="#f00"/>
<circle cx="1963.7" cy="1513.5" r="18.0" stroke="#f00"/>
<circle cx="1456.3" cy="1432.4" r="18.0" stroke="#00f"/>
<circle cx="1557.2" cy="1322.4" r="18.0" stroke="#00f"/>
<circle cx="1629.4" cy="1245.2" r="18.0" stroke="#00f"/>
<circle cx="1659.1" cy="1240.3" r="18.0" stroke="#00f"/>
<circle cx="1760.5" cy="1232.1" r="18.0" stroke="#00f"/>
<circle cx="1792.6" cy="1241.5" r="18.0" stroke="#00f"/>
<circle cx="1861.8" cy="1286" r="18.0" stroke="#00f"/>
<circle cx="1963.7" cy="1433.9" r="18.0" stroke="#00f"/>
</g>
<text class="title" transform="translate(1417.2 1161.7) scale(1 1.006)" font-size="69">(d) 2020/10/15</text>
<g class="grid" fill="none">
<line x1="1468.4" y1="1909.2" x2="1468.4" y2="1069.5" stroke="#9e9e9e" stroke-width="3.2" stroke-dasharray="10.8 4.65" stroke-opacity="0.93"/>
<line x1="1671.2" y1="1909.2" x2="1671.2" y2="1069.5" stroke="#9e9e9e" stroke-width="5.6" stroke-dasharray="10.8 4.65" stroke-opacity="0.47"/>
<line x1="1874" y1="1909.2" x2="1874" y2="1069.5" stroke="#9e9e9e" stroke-width="3.2" stroke-dasharray="10.8 4.65" stroke-opacity="0.93"/>
<line x1="2076.8" y1="1909.2" x2="2076.8" y2="1069.5" stroke="#9e9e9e" stroke-width="5.6" stroke-dasharray="10.8 4.65" stroke-opacity="0.47"/>
<line x1="1367" y1="1237.4" x2="2279.6" y2="1237.4" stroke="#9e9e9e" stroke-width="3.2" stroke-dasharray="10.8 4.65" stroke-opacity="0.93"/>
<line x1="1367" y1="1405.4" x2="2279.6" y2="1405.4" stroke="#9e9e9e" stroke-width="3.2" stroke-dasharray="10.8 4.65" stroke-opacity="0.93"/>
<line x1="1367" y1="1573.3" x2="2279.6" y2="1573.3" stroke="#9e9e9e" stroke-width="3.2" stroke-dasharray="10.8 4.65" stroke-opacity="0.93"/>
<line x1="1367" y1="1741.3" x2="2279.6" y2="1741.3" stroke="#9e9e9e" stroke-width="3.2" stroke-dasharray="10.8 4.65" stroke-opacity="0.93"/>
</g>
<g class="ticks" fill="none">
<line x1="1367" y1="1909.2" x2="1367" y2="1917.2" stroke="#2e2e2e" stroke-width="3.0"/>
<line x1="1417.7" y1="1909.2" x2="1417.7" y2="1917.2" stroke="#2e2e2e" stroke-width="3.0"/>
<line x1="1468.4" y1="1909.2" x2="1468.4" y2="1923" stroke="#2e2e2e" stroke-width="3.0"/>
<line x1="1519.1" y1="1909.2" x2="1519.1" y2="1917.2" stroke="#2e2e2e" stroke-width="3.0"/>
<line x1="1569.8" y1="1909.2" x2="1569.8" y2="1917.2" stroke="#2e2e2e" stroke-width="3.0"/>
<line x1="1620.5" y1="1909.2" x2="1620.5" y2="1917.2" stroke="#2e2e2e" stroke-width="3.0"/>
<line x1="1671.2" y1="1909.2" x2="1671.2" y2="1923" stroke="#2e2e2e" stroke-width="3.0"/>
<line x1="1721.9" y1="1909.2" x2="1721.9" y2="1917.2" stroke="#2e2e2e" stroke-width="3.0"/>
<line x1="1772.6" y1="1909.2" x2="1772.6" y2="1917.2" stroke="#2e2e2e" stroke-width="3.0"/>
<line x1="1823.3" y1="1909.2" x2="1823.3" y2="1917.2" stroke="#2e2e2e" stroke-width="3.0"/>
<line x1="1874" y1="1909.2" x2="1874" y2="1923" stroke="#2e2e2e" stroke-width="3.0"/>
<line x1="1924.7" y1="1909.2" x2="1924.7" y2="1917.2" stroke="#2e2e2e" stroke-width="3.0"/>
<line x1="1975.4" y1="1909.2" x2="1975.4" y2="1917.2" stroke="#2e2e2e" stroke-width="3.0"/>
<line x1="2026.1" y1="1909.2" x2="2026.1" y2="1917.2" stroke="#2e2e2e" stroke-width="3.0"/>
<line x1="2076.8" y1="1909.2" x2="2076.8" y2="1923" stroke="#2e2e2e" stroke-width="3.0"/>
<line x1="2127.5" y1="1909.2" x2="2127.5" y2="1917.2" stroke="#2e2e2e" stroke-width="3.0"/>
<line x1="2178.2" y1="1909.2" x2="2178.2" y2="1917.2" stroke="#2e2e2e" stroke-width="3.0"/>
<line x1="2228.9" y1="1909.2" x2="2228.9" y2="1917.2" stroke="#2e2e2e" stroke-width="3.0"/>
<line x1="2279.6" y1="1909.2" x2="2279.6" y2="1923" stroke="#2e2e2e" stroke-width="3.0"/>
<line x1="1367" y1="1909.2" x2="1353.2" y2="1909.2" stroke="#2e2e2e" stroke-width="3.0"/>
<line x1="1367" y1="1875.6" x2="1359" y2="1875.6" stroke="#2e2e2e" stroke-width="3.0"/>
<line x1="1367" y1="1842" x2="1359" y2="1842" stroke="#2e2e2e" stroke-width="3.0"/>
<line x1="1367" y1="1808.4" x2="1359" y2="1808.4" stroke="#2e2e2e" stroke-width="3.0"/>
<line x1="1367" y1="1774.8" x2="1359" y2="1774.8" stroke="#2e2e2e" stroke-width="3.0"/>
<line x1="1367" y1="1741.3" x2="1353.2" y2="1741.3" stroke="#2e2e2e" stroke-width="3.0"/>
<line x1="1367" y1="1707.7" x2="1359" y2="1707.7" stroke="#2e2e2e" stroke-width="3.0"/>
<line x1="1367" y1="1674.1" x2="1359" y2="1674.1" stroke="#2e2e2e" stroke-width="3.0"/>
<line x1="1367" y1="1640.5" x2="1359" y2="1640.5" stroke="#2e2e2e" stroke-width="3.0"/>
<line x1="1367" y1="1606.9" x2="1359" y2="1606.9" stroke="#2e2e2e" stroke-width="3.0"/>
<line x1="1367" y1="1573.3" x2="1353.2" y2="1573.3" stroke="#2e2e2e" stroke-width="3.0"/>
<line x1="1367" y1="1539.7" x2="1359" y2="1539.7" stroke="#2e2e2e" stroke-width="3.0"/>
<line x1="1367" y1="1506.1" x2="1359" y2="1506.1" stroke="#2e2e2e" stroke-width="3.0"/>
<line x1="1367" y1="1472.6" x2="1359" y2="1472.6" stroke="#2e2e2e" stroke-width="3.0"/>
<line x1="1367" y1="1439" x2="1359" y2="1439" stroke="#2e2e2e" stroke-width="3.0"/>
<line x1="1367" y1="1405.4" x2="1353.2" y2="1405.4" stroke="#2e2e2e" stroke-width="3.0"/>
<line x1="1367" y1="1371.8" x2="1359" y2="1371.8" stroke="#2e2e2e" stroke-width="3.0"/>
<line x1="1367" y1="1338.2" x2="1359" y2="1338.2" stroke="#2e2e2e" stroke-width="3.0"/>
<line x1="1367" y1="1304.6" x2="1359" y2="1304.6" stroke="#2e2e2e" stroke-width="3.0"/>
<line x1="1367" y1="1271" x2="1359" y2="1271" stroke="#2e2e2e" stroke-width="3.0"/>
<line x1="1367" y1="1237.4" x2="1353.2" y2="1237.4" stroke="#2e2e2e" stroke-width="3.0"/>
<line x1="1367" y1="1203.9" x2="1359" y2="1203.9" stroke="#2e2e2e" stroke-width="3.0"/>
<line x1="1367" y1="1170.3" x2="1359" y2="1170.3" stroke="#2e2e2e" stroke-width="3.0"/>
<line x1="1367" y1="1136.7" x2="1359" y2="1136.7" stroke="#2e2e2e" stroke-width="3.0"/>
<line x1="1367" y1="1103.1" x2="1359" y2="1103.1" stroke="#2e2e2e" stroke-width="3.0"/>
<line x1="1367" y1="1069.5" x2="1353.2" y2="1069.5" stroke="#2e2e2e" stroke-width="3.0"/>
</g>
<g class="spines" fill="none">
<line x1="1365.4" y1="1071.3" x2="2281.2" y2="1071.3" stroke="#a4a4a4" stroke-width="2.8"/>
<line x1="1365.4" y1="1068.4" x2="2281.2" y2="1068.4" stroke="#1c1c1c" stroke-width="3.0"/>
<line x1="1365.4" y1="1909.2" x2="2281.2" y2="1909.2" stroke="#0c0c0c" stroke-width="3.2"/>
<line x1="1368.8" y1="1067.9" x2="1368.8" y2="1910.8" stroke="#a4a4a4" stroke-width="2.2"/>
<line x1="1366.2" y1="1067.9" x2="1366.2" y2="1910.8" stroke="#1c1c1c" stroke-width="3.0"/>
<line x1="2279.6" y1="1067.9" x2="2279.6" y2="1910.8" stroke="#0c0c0c" stroke-width="3.2"/>
</g>
<g class="ticklabels" font-size="51">
<text x="1468.4" y="1970.8" text-anchor="middle">10</text>
<text x="1671.2" y="1970.8" text-anchor="middle">12</text>
<text x="1874" y="1970.8" text-anchor="middle">14</text>
<text x="2076.8" y="1970.8" text-anchor="middle">16</text>
<text x="2279.6" y="1970.8" text-anchor="middle">18</text>
<text transform="translate(1339.4 1087.8) scale(0.972 1)" text-anchor="end">320</text>
<text transform="translate(1339.4 1255.7) scale(0.972 1)" text-anchor="end">315</text>
<text transform="translate(1339.4 1423.7) scale(0.972 1)" text-anchor="end">310</text>
<text transform="translate(1339.4 1591.6) scale(0.972 1)" text-anchor="end">305</text>
<text transform="translate(1339.4 1759.6) scale(0.972 1)" text-anchor="end">300</text>
<text transform="translate(1339.4 1927.5) scale(0.972 1)" text-anchor="end">295</text>
</g>
<text class="xlabel" x="1823.3" y="2037.6" font-size="58.2" text-anchor="middle">Local Solar Time (h)</text>
<text class="ylabel" transform="translate(1227.6 1490.1) rotate(-90)" font-size="58.4" text-anchor="middle">LST (K)</text>
<g class="legend">
<rect x="1390" y="1668.3" width="471.6" height="216.1" fill="#fff" fill-opacity="0.8"/>
<line x1="1388.4" y1="1668.3" x2="1863.2" y2="1668.3" stroke="#3a3a3a" stroke-width="3.2"/>
<line x1="1388.4" y1="1884.4" x2="1863.2" y2="1884.4" stroke="#3a3a3a" stroke-width="3.2"/>
<line x1="1390" y1="1666.7" x2="1390" y2="1886" stroke="#3a3a3a" stroke-width="3.2"/>
<line x1="1861.6" y1="1666.7" x2="1861.6" y2="1886" stroke="#3a3a3a" stroke-width="3.2"/>
<line x1="1405.5" y1="1706.6" x2="1506.9" y2="1706.6" stroke="#000" stroke-width="6.6"/>
<circle cx="1456.5" cy="1773.2" r="18.0" fill="none" stroke="#f00" stroke-width="3.2"/>
<circle cx="1456.5" cy="1840.2" r="18.0" fill="none" stroke="#00f" stroke-width="3.2"/>
<g font-size="47.5">
<text x="1540.2" y="1722.7">In-situ LST</text>
<text x="1540.2" y="1789.5">Off-nadir LST</text>
<text x="1540.2" y="1857.3">Nadir LST</text>
</g></g>
</g>
</g>
</svg>
</body>
</html>
